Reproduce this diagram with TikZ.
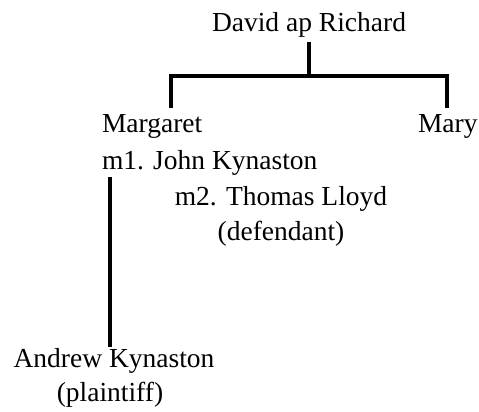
\documentclass[tikz,border=0pt]{standalone}
\usepackage{fontspec}
\setmainfont{Liberation Serif}
\begin{document}
\begin{tikzpicture}[x=1pt,y=-1pt,
  lbl/.style={inner sep=0pt,outer sep=0pt,font=\fontsize{27.5}{32}\selectfont,text=black},
  tree/.style={line width=3.2pt,black,line join=miter,line cap=butt}]
\useasboundingbox (0,0) rectangle (479,412);
\node[lbl,anchor=base] (david) at (309,32) {David ap Richard};
\node[lbl,anchor=base west] (margaret) at (102,132) {Margaret};
\node[lbl,anchor=base west] (mary) at (418,132) {Mary};
\node[lbl,anchor=base west] (m1) at (102,169) {m1. John Kynaston};
\node[lbl,anchor=base] (m2) at (281,205) {m2. Thomas Lloyd};
\node[lbl,anchor=base] (def) at (281,240) {(defendant)};
\node[lbl,anchor=base] (andrew) at (114,367) {Andrew Kynaston};
\node[lbl,anchor=base] (plain) at (110,401) {(plaintiff)};
\coordinate (bar) at (0,76);
\coordinate (ml) at (171,108);
\coordinate (mr) at (447,108);
\coordinate (dtop) at (309,42);
\coordinate (ctop) at (110,177);
\coordinate (cbot) at (110,347);
\draw[tree] (dtop) -- (dtop |- bar);
\draw[tree] (ml) -- (ml |- bar) -- (mr |- bar) -- (mr);
\draw[tree] (ctop) -- (cbot);
\end{tikzpicture}
\end{document}
